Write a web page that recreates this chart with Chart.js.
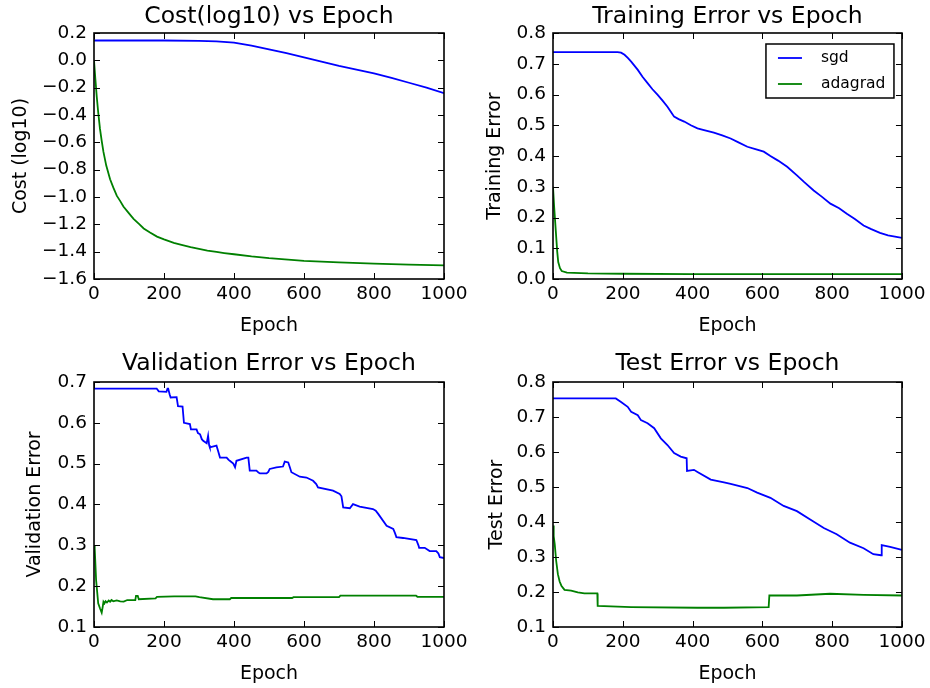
<!DOCTYPE html>
<html>
<head>
<meta charset="utf-8">
<script src="https://cdn.jsdelivr.net/npm/chart.js@4.4.0/dist/chart.umd.min.js"></script>
<style>
  html, body { margin: 0; padding: 0; background: #fff; }
  #fig { position: relative; width: 930px; height: 688px; overflow: hidden; }
  #fig canvas { position: absolute; }
</style>
</head>
<body>
<div id="fig">
  <canvas id="c-cost" width="480" height="344" style="left:0;top:0"></canvas>
  <canvas id="c-train" width="465" height="344" style="left:465px;top:0"></canvas>
  <canvas id="c-valid" width="480" height="344" style="left:0;top:344px"></canvas>
  <canvas id="c-test" width="465" height="344" style="left:465px;top:344px"></canvas>
</div>
<script>
// series names + x ticks
const seriesNames = ['sgd', 'adagrad'];
const epochTicks = [0, 200, 400, 600, 800, 1000];

// [epoch, value]
const costSgd = [[0,0.145],[100,0.145],[200,0.145],[300,0.143],[350,0.139],[400,0.130],[450,0.108],
  [500,0.080],[550,0.052],[600,0.022],[650,-0.009],[700,-0.040],[750,-0.068],[800,-0.095],
  [850,-0.128],[900,-0.164],[950,-0.200],[1000,-0.240]];
const costAda = [[0,0.0],[4,-0.14],[8,-0.27],[12,-0.38],[17,-0.50],[22,-0.59],[27,-0.67],[35,-0.77],
  [46,-0.87],[55,-0.93],[65,-0.99],[75,-1.03],[84,-1.07],[100,-1.12],[113,-1.16],[130,-1.20],
  [142,-1.23],[160,-1.26],[180,-1.29],[200,-1.31],[228,-1.335],[250,-1.35],[276,-1.367],[300,-1.38],
  [324,-1.392],[350,-1.402],[372,-1.41],[400,-1.419],[450,-1.435],[500,-1.448],[600,-1.467],[700,-1.479],
  [800,-1.488],[900,-1.495],[1000,-1.50]];

const trainSgd = [[0,0.738],[185,0.738],[195,0.736],[205,0.729],[215,0.718],[224,0.707],[243,0.68],
  [257,0.657],[271,0.637],[285,0.617],[300,0.599],[314,0.58],[328,0.56],[340,0.54],[347,0.528],
  [360,0.52],[376,0.512],[395,0.50],[414,0.49],[430,0.485],[461,0.476],[485,0.467],[509,0.457],
  [530,0.445],[557,0.43],[580,0.422],[604,0.414],[623,0.40],[645,0.385],[671,0.365],[699,0.337],
  [720,0.315],[747,0.288],[770,0.268],[795,0.245],[820,0.23],[842,0.212],[865,0.195],[890,0.174],
  [912,0.162],[937,0.150],[960,0.142],[980,0.138],[1000,0.134]];
const trainAda = [[0,0.30],[3,0.24],[6,0.19],[9,0.14],[12,0.09],[15,0.055],[20,0.035],[25,0.026],
  [40,0.021],[60,0.02],[100,0.018],[200,0.017],[400,0.016],[1000,0.016]];

const validSgd = [[0,0.684],[179,0.684],[185,0.677],[207,0.676],[210,0.684],[212,0.684],[216,0.67],
  [219,0.662],[236,0.663],[240,0.641],[253,0.64],[257,0.60],[274,0.597],[277,0.584],[293,0.584],
  [297,0.575],[303,0.572],[308,0.56],[312,0.556],[322,0.55],[326,0.568],[329,0.545],[331,0.54],
  [350,0.544],[355,0.53],[360,0.515],[379,0.515],[384,0.51],[388,0.507],[398,0.50],[403,0.491],
  [407,0.507],[436,0.515],[441,0.515],[445,0.483],[464,0.483],[470,0.478],[474,0.476],[493,0.476],
  [498,0.48],[502,0.487],[521,0.491],[540,0.493],[545,0.505],[555,0.503],[560,0.49],[564,0.479],
  [588,0.468],[607,0.466],[626,0.458],[635,0.45],[640,0.442],[683,0.434],[702,0.426],[707,0.42],
  [712,0.393],[731,0.391],[740,0.401],[759,0.395],[797,0.389],[805,0.385],[812,0.377],[836,0.348],
  [855,0.34],[860,0.33],[864,0.32],[883,0.318],[921,0.313],[927,0.30],[929,0.294],[945,0.294],
  [959,0.286],[978,0.286],[984,0.28],[988,0.271],[1000,0.269]];
const validAda = [[0,0.30],[2,0.293],[6,0.215],[12,0.158],[17,0.146],[22,0.135],[25,0.15],[27,0.162],
  [30,0.158],[33,0.163],[37,0.16],[42,0.165],[46,0.162],[50,0.166],[55,0.163],[65,0.165],[75,0.163],
  [85,0.162],[95,0.166],[104,0.166],[118,0.166],[120,0.176],[125,0.176],[128,0.168],[176,0.17],
  [180,0.174],[229,0.175],[290,0.175],[301,0.173],[340,0.168],[388,0.168],[392,0.171],[566,0.171],
  [570,0.173],[700,0.173],[704,0.177],[920,0.177],[924,0.174],[1000,0.174]];

const testSgd = [[0,0.753],[180,0.753],[195,0.743],[214,0.729],[224,0.715],[243,0.705],[252,0.691],
  [271,0.682],[290,0.668],[309,0.639],[328,0.62],[347,0.597],[366,0.587],[383,0.582],[384,0.546],
  [404,0.549],[414,0.543],[452,0.521],[490,0.513],[509,0.509],[557,0.497],[585,0.484],[623,0.469],
  [661,0.446],[699,0.431],[737,0.407],[776,0.383],[813,0.365],[851,0.341],[890,0.325],[918,0.308],
  [940,0.305],[942,0.334],[966,0.329],[1000,0.32]];
const testAda = [[0,0.39],[2,0.36],[5,0.336],[9,0.29],[14,0.251],[19,0.23],[24,0.218],[33,0.206],
  [52,0.204],[71,0.199],[90,0.196],[127,0.196],[128,0.16],[224,0.157],[414,0.155],[490,0.155],
  [618,0.157],[620,0.19],[699,0.19],[794,0.195],[890,0.192],[1000,0.19]];

Chart.defaults.font.family = "'DejaVu Sans'";
Chart.defaults.color = '#000';
Chart.defaults.animation = false;

const TICK_LEN = 6;
const LINE_W = 1.8;

function toPoints(pairs) {
  return pairs.map(p => ({ x: p[0], y: p[1] }));
}

// matplotlib style: one decimal, real minus sign
function fmtTick(v) {
  const r = Math.round(v * 10) / 10;
  return (r < 0 ? '\u2212' : '') + Math.abs(r).toFixed(1);
}

// box + inward ticks on all four sides
const frameTicks = {
  id: 'frameTicks',
  afterDatasetsDraw(chart) {
    const { ctx, chartArea: a, scales: { x, y } } = chart;
    ctx.save();
    ctx.strokeStyle = '#000';
    ctx.lineWidth = 1;
    ctx.beginPath();
    x.ticks.forEach(t => {
      const px = Math.round(x.getPixelForValue(t.value)) + 0.5;
      ctx.moveTo(px, a.bottom); ctx.lineTo(px, a.bottom - TICK_LEN);
      ctx.moveTo(px, a.top); ctx.lineTo(px, a.top + TICK_LEN);
    });
    y.ticks.forEach(t => {
      const py = Math.round(y.getPixelForValue(t.value)) + 0.5;
      ctx.moveTo(a.left, py); ctx.lineTo(a.left + TICK_LEN, py);
      ctx.moveTo(a.right, py); ctx.lineTo(a.right - TICK_LEN, py);
    });
    ctx.stroke();
    ctx.lineWidth = 1.6;
    ctx.strokeRect(a.left, a.top, a.right - a.left, a.bottom - a.top);
    ctx.restore();
  }
};

// legend box inside the plot, upper right
const boxLegend = {
  id: 'boxLegend',
  afterDatasetsDraw(chart) {
    const { ctx, chartArea: a } = chart;
    const w = 128, h = 54;
    const left = a.right - 8 - w, top = a.top + 11;
    ctx.save();
    ctx.fillStyle = '#fff';
    ctx.fillRect(left, top, w, h);
    ctx.strokeStyle = '#000';
    ctx.lineWidth = 1.5;
    ctx.strokeRect(left, top, w, h);
    ctx.font = "15.5px 'DejaVu Sans'";
    ctx.textBaseline = 'middle';
    ctx.textAlign = 'left';
    chart.data.datasets.forEach((ds, i) => {
      const ry = top + 14 + i * 26;
      ctx.strokeStyle = ds.borderColor;
      ctx.lineWidth = LINE_W;
      ctx.beginPath();
      ctx.moveTo(left + 12, ry); ctx.lineTo(left + 36, ry);
      ctx.stroke();
      ctx.fillStyle = '#000';
      ctx.fillText(ds.label, left + 55, ry);
    });
    ctx.restore();
  }
};

function makeChart(id, o) {
  const plugins = [frameTicks];
  if (o.legend) plugins.push(boxLegend);
  return new Chart(document.getElementById(id), {
    type: 'line',
    data: {
      datasets: [
        { label: seriesNames[0], data: toPoints(o.sgd), borderColor: '#0000ff', borderWidth: LINE_W,
          pointRadius: 0, fill: false, tension: 0, order: 1 },
        { label: seriesNames[1], data: toPoints(o.ada), borderColor: '#008000', borderWidth: LINE_W,
          pointRadius: 0, fill: false, tension: 0, order: 0 }
      ]
    },
    options: {
      responsive: false,
      layout: { padding: { left: 0, top: 0, bottom: 0, right: o.rightPad } },
      plugins: {
        legend: { display: false },
        tooltip: { enabled: false },
        title: {
          display: true,
          text: o.title,
          fullSize: false,
          font: { size: 23.5, weight: 'normal' },
          color: '#000',
          padding: o.titlePad
        }
      },
      scales: {
        x: {
          type: 'linear',
          min: 0, max: 1000,
          afterBuildTicks: s => { s.ticks = epochTicks.map(v => ({ value: v })); },
          ticks: { callback: v => String(v), font: { size: 18.5 }, padding: 4.5, maxRotation: 0, autoSkip: false },
          grid: { display: false, drawTicks: false },
          border: { display: false },
          title: { display: true, text: 'Epoch', font: { size: 19 }, padding: { top: 0, bottom: o.xTitlePad } },
          afterFit: s => { s.height = o.xHeight; }
        },
        y: {
          min: o.yMin, max: o.yMax,
          ticks: { stepSize: o.yStep, callback: fmtTick, font: { size: 18.5 }, padding: 7 },
          grid: { display: false, drawTicks: false },
          border: { display: false },
          title: { display: true, text: o.yLabel, font: { size: 19 }, padding: { top: o.yTitlePad, bottom: 0 } },
          afterFit: s => { s.width = o.yWidth; }
        }
      }
    },
    plugins
  });
}

makeChart('c-cost', {
  title: 'Cost(log10) vs Epoch', yLabel: 'Cost (log10)',
  yMin: -1.6, yMax: 0.2, yStep: 0.2, sgd: costSgd, ada: costAda,
  yWidth: 94, yTitlePad: 9.3, xHeight: 65, xTitlePad: 7, rightPad: 36,
  titlePad: { top: 2.9, bottom: 1.9 }
});
makeChart('c-train', {
  title: 'Training Error vs Epoch', yLabel: 'Training Error',
  yMin: 0, yMax: 0.8, yStep: 0.1, sgd: trainSgd, ada: trainAda,
  yWidth: 88, yTitlePad: 19, xHeight: 65, xTitlePad: 7, rightPad: 26,
  titlePad: { top: 2.9, bottom: 1.9 }, legend: true
});
makeChart('c-valid', {
  title: 'Validation Error vs Epoch', yLabel: 'Validation Error',
  yMin: 0.1, yMax: 0.7, yStep: 0.1, sgd: validSgd, ada: validAda,
  yWidth: 94, yTitlePad: 24, xHeight: 61, xTitlePad: 3, rightPad: 36,
  titlePad: { top: 6.2, bottom: 3.6 }
});
makeChart('c-test', {
  title: 'Test Error vs Epoch', yLabel: 'Test Error',
  yMin: 0.1, yMax: 0.8, yStep: 0.1, sgd: testSgd, ada: testAda,
  yWidth: 88, yTitlePad: 20.6, xHeight: 61, xTitlePad: 3, rightPad: 26,
  titlePad: { top: 6.2, bottom: 3.6 }
});
</script>
</body>
</html>
